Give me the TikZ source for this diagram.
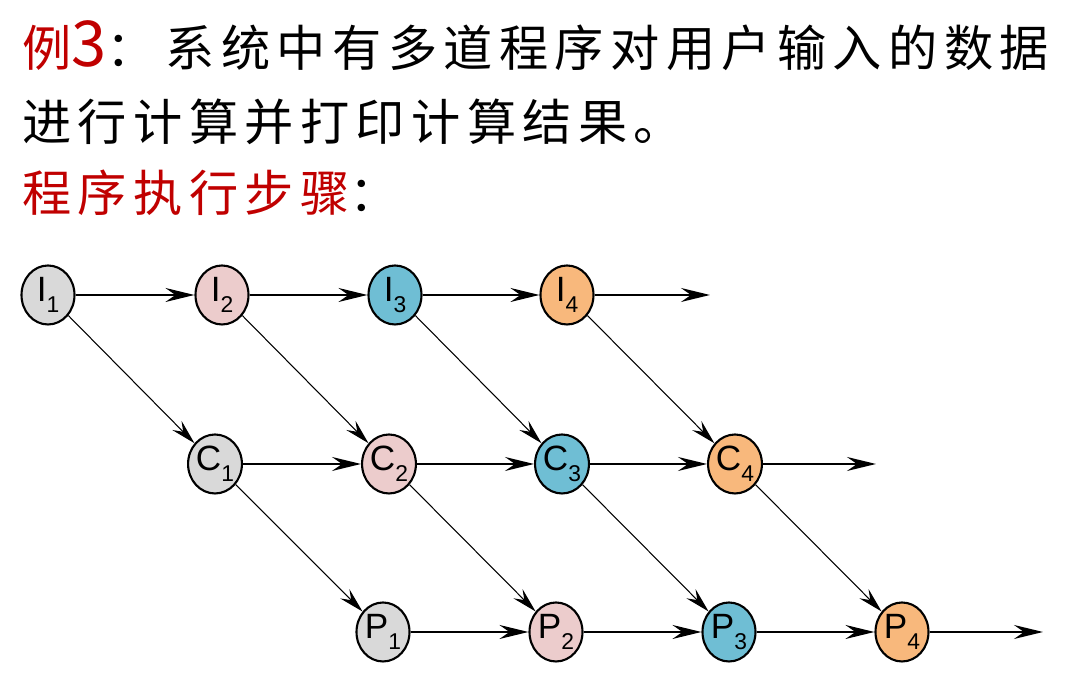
\documentclass[tikz,border=0pt]{standalone}
\usepackage{fontspec}
\newfontfamily\cjkfont[LetterSpace=13]{Noto Sans CJK SC}
\newfontfamily\labelfont{Liberation Sans}
\usetikzlibrary{arrows.meta,shapes.geometric}
\definecolor{titlered}{RGB}{192,0,0}
\definecolor{stgray}{RGB}{217,217,217}
\definecolor{stpink}{RGB}{236,204,204}
\definecolor{stblue}{RGB}{111,190,212}
\definecolor{storange}{RGB}{248,184,124}
\newcommand{\stlabel}[2]{#1\raisebox{-0.6ex}{\fontsize{13}{13}\selectfont #2}}

\begin{document}
\begin{tikzpicture}[
  >={Stealth[length=5.8mm,width=2.8mm,inset=2.0mm]},
  stage/.style={ellipse, draw=black, line width=1.2pt, minimum width=1.06cm, minimum height=1.18cm,
    inner sep=0pt, font=\labelfont\fontsize{20}{20}\selectfont},
  flow/.style={->, line width=1.1pt},
  diag/.style={-{Stealth[length=5.0mm,width=2.6mm,inset=1.8mm]}, line width=0.6pt},
  title/.style={anchor=west, inner sep=0pt, font=\cjkfont\fontsize{28}{30}\selectfont},
]
\useasboundingbox (0,0) rectangle (21.52,13.58);

% ------------------------------------------------------------------ heading
\node[title] (head1) at (0.44,12.66)
  {{\color{titlered}例{\fontsize{36}{36}\selectfont 3}}：\hspace{0.2em}系统中有多道程序对用户输入的数据};
\node[title] (head2) at (0.44,11.14) {进行计算并打印计算结果。};
\node[title] (head3) at (0.44,9.72) {{\color{titlered}程序执行步骤}：};

% ------------------------------------------------------------------ stages
\foreach \k/\xi/\xc/\xp/\c in {1/0.96/4.30/7.66/stgray, 2/4.44/7.78/11.12/stpink,
                               3/7.90/11.24/14.58/stblue, 4/11.34/14.70/18.04/storange} {
  \node[stage, fill=\c] (i\k) at (\xi,7.68) {\stlabel{I}{\k}};
  \node[stage, fill=\c] (c\k) at (\xc,4.30) {\stlabel{C}{\k}};
  \node[stage, fill=\c] (p\k) at (\xp,0.94) {\stlabel{P}{\k}};
}
\coordinate (iend) at (14.20,7.68);
\coordinate (cend) at (17.52,4.30);
\coordinate (pend) at (20.86,0.94);

% ------------------------------------------------------------------ flow
\foreach \a/\b in {1/2,2/3,3/4} {
  \draw[flow] (i\a) -- (i\b);
  \draw[flow] (c\a) -- (c\b);
  \draw[flow] (p\a) -- (p\b);
}
\draw[flow] (i4) -- (iend);
\draw[flow] (c4) -- (cend);
\draw[flow] (p4) -- (pend);

\foreach \k in {1,...,4} {
  \draw[diag] (i\k) -- (c\k);
  \draw[diag] (c\k) -- (p\k);
}
\end{tikzpicture}
\end{document}
